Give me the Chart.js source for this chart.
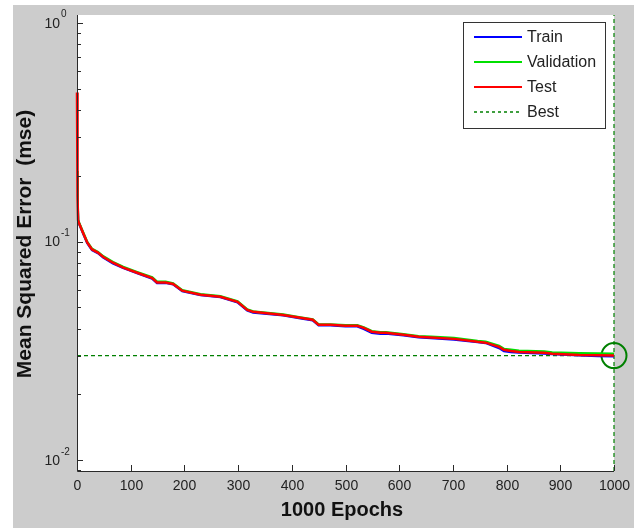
<!DOCTYPE html>
<html><head><meta charset="utf-8">
<script src="https://cdn.jsdelivr.net/npm/chart.js@4/dist/chart.umd.min.js"></script>
<style>html,body{margin:0;padding:0;background:#fff;} canvas{display:block;}</style>
</head><body>
<canvas id="c" width="638" height="528"></canvas>
<script>
const epochs=[0,1,2,4,11,19,28,39,49,67,86,112,140,149,165,179,196,230,267,299,317,328,384,416,439,450,472,500,522,534,549,565,575,608,636,659,702,746,761,786,795,808,823,870,885,935,970,1000];
const trainMSE=[0.20,0.15,0.1245,0.1205,0.1095,0.0985,0.0915,0.0885,0.0845,0.0795,0.0757,0.0717,0.0677,0.0647,0.0647,0.0637,0.0593,0.0569,0.0557,0.0528,0.0484,0.0474,0.046,0.0446,0.0437,0.0414,0.0414,0.041,0.041,0.0399,0.0383,0.0379,0.0380,0.0373,0.0365,0.0362,0.0357,0.0347,0.0344,0.0326,0.0316,0.0313,0.0311,0.0308,0.0306,0.0302,0.0300,0.0299];
const valMSE=[0.21,0.155,0.1255,0.1215,0.1105,0.0995,0.0925,0.0895,0.0855,0.0805,0.0765,0.0725,0.0685,0.0655,0.0654,0.0644,0.0599,0.0574,0.0562,0.0533,0.0489,0.0479,0.0464,0.045,0.0441,0.0418,0.0418,0.0414,0.0414,0.0405,0.0389,0.0385,0.0385,0.0377,0.0369,0.0367,0.0362,0.0351,0.0348,0.0333,0.0323,0.0320,0.0317,0.0314,0.0311,0.0309,0.0308,0.0307];
const testMSE=[0.48,0.16,0.125,0.121,0.110,0.099,0.092,0.089,0.085,0.080,0.076,0.072,0.068,0.065,0.065,0.064,0.0596,0.0571,0.0559,0.0530,0.0487,0.0477,0.0462,0.0448,0.0439,0.0416,0.0416,0.0412,0.0412,0.0403,0.0387,0.0383,0.0383,0.0375,0.0367,0.0364,0.0359,0.0348,0.0345,0.0330,0.0320,0.0316,0.0313,0.0310,0.0307,0.0303,0.0302,0.0301];
const bestMSE=0.0301;
const bestEpoch=1000;
const xTicks=[0,100,200,300,400,500,600,700,800,900,1000];
const yDecades=[-2,-1,0];
const seriesNames=['Train','Validation','Test','Best'];
const xTitle='1000 Epochs';
const yTitle='Mean Squared Error  (mse)';
const xMin=0, xMax=1000;
const yMin=0.00894, yMax=1.084;

const BLUE='#0000ff', GREEN='#00e000', RED='#ff0000', BEST='rgb(0,128,0)';
const pts=(arr)=>epochs.map((e,i)=>({x:e,y:arr[i]}));

const decor={
  id:'decor',
  beforeDraw(chart){
    const ctx=chart.ctx, a=chart.chartArea;
    ctx.save();
    ctx.fillStyle='#fff'; ctx.fillRect(0,0,chart.width,chart.height);
    ctx.fillStyle='#cccccc'; ctx.fillRect(13,5,621,523);
    ctx.fillStyle='#fff'; ctx.fillRect(a.left,a.top,a.right-a.left,a.bottom-a.top);
    ctx.restore();
  },
  afterDraw(chart){
    const ctx=chart.ctx, a=chart.chartArea, xs=chart.scales.x, ys=chart.scales.y;
    ctx.save();
    ctx.strokeStyle='#2a2a2a'; ctx.lineWidth=1;
    ctx.beginPath();
    ctx.moveTo(a.left+0.5,a.top); ctx.lineTo(a.left+0.5,a.bottom+0.5); ctx.lineTo(a.right,a.bottom+0.5);
    ctx.stroke();
    ctx.fillStyle='#222'; ctx.font='14px "Liberation Sans", Arial, sans-serif';
    ctx.textAlign='center'; ctx.textBaseline='middle';
    xTicks.forEach(t=>{
      const px=Math.round(xs.getPixelForValue(t))+0.5;
      ctx.beginPath(); ctx.moveTo(px,a.bottom); ctx.lineTo(px,a.bottom-6); ctx.stroke();
      ctx.fillText(String(t),px,486);
    });
    for(let d=-3; d<=0; d++){
      for(let m=1;m<=9;m++){
        const v=m*Math.pow(10,d);
        if(v<yMin||v>yMax) continue;
        const py=Math.round(ys.getPixelForValue(v))+0.5;
        ctx.beginPath(); ctx.moveTo(a.left,py); ctx.lineTo(a.left+(m===1?6:4),py); ctx.stroke();
      }
    }
    yDecades.forEach(d=>{
      const py=ys.getPixelForValue(Math.pow(10,d));
      ctx.font='14px "Liberation Sans", Arial, sans-serif';
      ctx.textAlign='right'; ctx.textBaseline='middle';
      ctx.fillText('10',60,py+1);
      ctx.font='10px "Liberation Sans", Arial, sans-serif';
      ctx.textAlign='left';
      ctx.fillText(String(d),61,py-8);
    });
    ctx.fillStyle='#111';
    ctx.font='bold 20px "Liberation Sans", Arial, sans-serif';
    ctx.textAlign='center'; ctx.textBaseline='middle';
    ctx.fillText(xTitle,342,510);
    ctx.save();
    ctx.translate(25,244); ctx.rotate(-Math.PI/2);
    ctx.font='bold 21px "Liberation Sans", Arial, sans-serif';
    ctx.fillText(yTitle,0,0);
    ctx.restore();
    ctx.fillStyle='#fff'; ctx.fillRect(463.5,22.5,142,106);
    ctx.strokeStyle='#333'; ctx.lineWidth=1; ctx.strokeRect(463.5,22.5,142,106);
    const cols=[BLUE,GREEN,RED,BEST];
    const ly=[37,62,87,112];
    seriesNames.forEach((n,i)=>{
      ctx.beginPath();
      ctx.strokeStyle=cols[i];
      ctx.lineWidth=i===3?1.5:2;
      ctx.setLineDash(i===3?[3,3]:[]);
      ctx.moveTo(474,ly[i]); ctx.lineTo(522,ly[i]); ctx.stroke();
      ctx.setLineDash([]);
      ctx.fillStyle='#222'; ctx.font='16px "Liberation Sans", Arial, sans-serif';
      ctx.textAlign='left'; ctx.textBaseline='middle';
      ctx.fillText(n,527,ly[i]+1);
    });
    ctx.restore();
  }
};

new Chart(document.getElementById('c'),{
  type:'line',
  data:{datasets:[
    {label:'Test',data:pts(testMSE),borderColor:RED,borderWidth:2.5,pointRadius:0,tension:0,clip:false},
    {label:'Validation',data:pts(valMSE),borderColor:GREEN,borderWidth:2.5,pointRadius:0,tension:0},
    {label:'Train',data:pts(trainMSE),borderColor:BLUE,borderWidth:2.5,pointRadius:0,tension:0},
    {label:'Best',data:[{x:xMin,y:bestMSE},{x:xMax,y:bestMSE}],borderColor:BEST,borderWidth:1.2,borderDash:[4,3],pointRadius:0},
    {label:'BestV',data:[{x:bestEpoch,y:yMin},{x:bestEpoch,y:yMax}],borderColor:BEST,borderWidth:1.2,borderDash:[4,3],pointRadius:0,clip:false},
    {label:'BestPt',data:[{x:bestEpoch,y:bestMSE}],showLine:false,pointRadius:12.5,pointBorderWidth:2,pointBorderColor:BEST,pointBackgroundColor:'rgba(0,0,0,0)',clip:false}
  ]},
  options:{
    responsive:false, devicePixelRatio:1, animation:false,
    layout:{padding:{left:77,top:15,right:24,bottom:57}},
    plugins:{legend:{display:false},tooltip:{enabled:false}},
    scales:{
      x:{type:'linear',min:xMin,max:xMax,display:false},
      y:{type:'logarithmic',min:yMin,max:yMax,display:false}
    }
  },
  plugins:[decor]
});
</script>
</body></html>
